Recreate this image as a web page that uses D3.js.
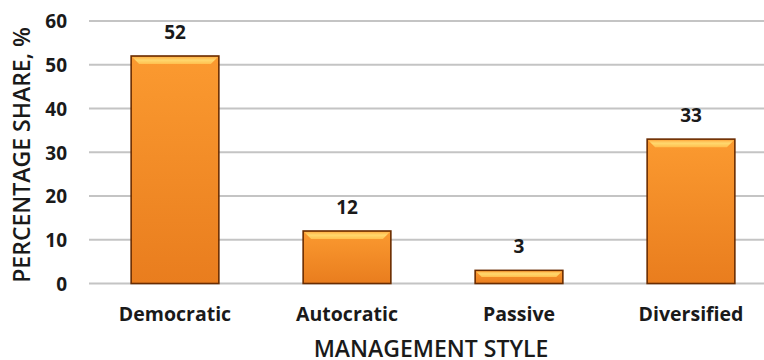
<!DOCTYPE html>
<html>
<head>
<meta charset="utf-8">
<script src="https://cdn.jsdelivr.net/npm/d3@7"></script>
<style>
  html, body { margin: 0; padding: 0; background: #fff; }
  svg text { font-family: "Open Sans", "Lato", sans-serif; font-weight: 700; fill: #1a1a1a; }
</style>
</head>
<body>
<svg id="chart" width="764" height="360"></svg>
<script>
// Share of respondents by management style
const categories = ["Democratic", "Autocratic", "Passive", "Diversified"];
const shares = [52, 12, 3, 33];
const yTicks = [0, 10, 20, 30, 40, 50, 60];

const svg = d3.select("#chart");
const plotLeft = 89, plotRight = 777, plotTop = 21, plotBottom = 283.5;

const x = d3.scaleBand().domain(categories).range([plotLeft, plotRight]).paddingInner(0.49).paddingOuter(0.245);
const y = d3.scaleLinear().domain([0, 60]).range([plotBottom, plotTop]);

const defs = svg.append("defs");
const grad = defs.append("linearGradient").attr("id", "barFill")
  .attr("x1", 0).attr("y1", 0).attr("x2", 0).attr("y2", 1);
grad.append("stop").attr("offset", "0%").attr("stop-color", "#fb9a30");
grad.append("stop").attr("offset", "100%").attr("stop-color", "#e97d1e");

const bevel = defs.append("linearGradient").attr("id", "bevelFill")
  .attr("x1", 0).attr("y1", 0).attr("x2", 0).attr("y2", 1);
bevel.append("stop").attr("offset", "0%").attr("stop-color", "#ffb347");
bevel.append("stop").attr("offset", "45%").attr("stop-color", "#ffd86e");
bevel.append("stop").attr("offset", "100%").attr("stop-color", "#ffc04f");

// horizontal gridlines
svg.append("g").selectAll("line").data(yTicks).join("line")
  .attr("x1", plotLeft).attr("x2", plotRight)
  .attr("y1", d => y(d)).attr("y2", d => y(d))
  .attr("stroke", "#c4c4c4").attr("stroke-width", 2);

// y axis tick labels
const yAxis = d3.axisLeft(y).tickValues(yTicks).tickSize(0).tickPadding(0);
const ya = svg.append("g").attr("transform", `translate(67,0)`).call(yAxis);
ya.select(".domain").remove();
ya.selectAll("text").attr("font-size", 19).attr("dy", "0.36em")
  .style("font-family", "'Open Sans', Lato, sans-serif").style("font-weight", 700).attr("fill", "#1a1a1a");

// bars
const bars = svg.append("g").selectAll("g").data(categories).join("g");
bars.append("rect")
  .attr("x", d => x(d)).attr("width", x.bandwidth())
  .attr("y", (d, i) => y(shares[i])).attr("height", (d, i) => y(0) - y(shares[i]))
  .attr("fill", "url(#barFill)").attr("stroke", "#6a2c00").attr("stroke-width", 1.6);

// bevel highlight along the top edge of each bar
bars.append("path")
  .attr("d", (d, i) => {
    const x0 = x(d) + 1, x1 = x(d) + x.bandwidth() - 1, t = y(shares[i]) + 1;
    const h = Math.min(7, (y(0) - y(shares[i])) / 2 - 1);
    return `M${x0},${t}L${x1},${t}L${x1 - h},${t + h}L${x0 + h},${t + h}Z`;
  })
  .attr("fill", "url(#bevelFill)");

// value labels
bars.append("text")
  .attr("x", d => x(d) + x.bandwidth() / 2)
  .attr("y", (d, i) => y(shares[i]) - 17)
  .attr("text-anchor", "middle").attr("font-size", 19)
  .text((d, i) => shares[i]);

// category labels
const xAxis = d3.axisBottom(x).tickSize(0).tickPadding(0);
const xa = svg.append("g").attr("transform", `translate(0,${plotBottom})`).call(xAxis);
xa.select(".domain").remove();
xa.selectAll("text").attr("font-size", 19.5).attr("dy", 0).attr("y", 37)
  .style("font-family", "'Open Sans', Lato, sans-serif").style("font-weight", 700).attr("fill", "#1a1a1a");

// axis titles
svg.append("text").attr("x", 431).attr("y", 357).attr("text-anchor", "middle")
  .attr("font-size", 23).style("font-weight", 600).text("MANAGEMENT STYLE");
svg.append("text").attr("transform", "translate(30,155) rotate(-90)")
  .attr("text-anchor", "middle").attr("font-size", 23).style("font-weight", 600)
  .text("PERCENTAGE SHARE, %");
</script>
</body>
</html>
